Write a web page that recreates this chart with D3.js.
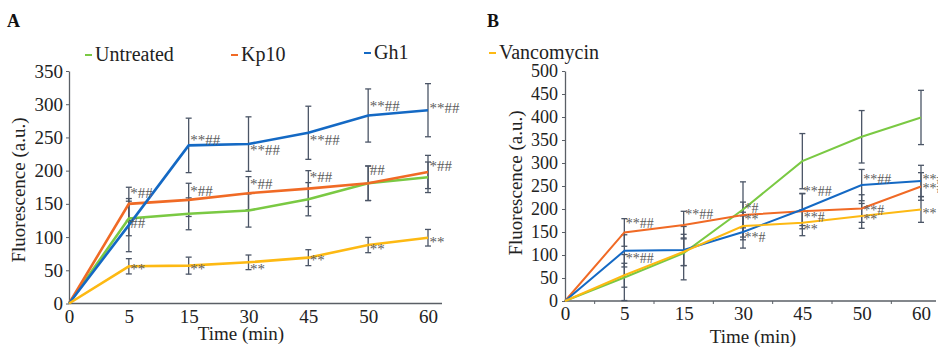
<!DOCTYPE html>
<html>
<head>
<meta charset="utf-8">
<script src="https://cdn.jsdelivr.net/npm/d3@7"></script>
<style>
  body { margin: 0; background: #fff; }
  text { font-family: "Liberation Serif", "Times New Roman", serif; }
</style>
</head>
<body>
<svg id="chart" width="938" height="349"></svg>
<script>
// categories (time points, equally spaced)
var times = ["0", "5", "15", "30", "45", "50", "60"];
var seriesNames = ["Untreated", "Kp10", "Gh1", "Vancomycin"];
var seriesColors = ["#7ac943", "#f06a25", "#1469c4", "#fdb913"];

// panel A
var aUntreated = [0, 128, 135, 140, 157, 181, 190];
var aKp10 = [0, 150, 156, 166, 173, 181, 198];
var aGh1 = [0, 118, 238, 240, 257, 283, 291];
var aVanco = [0, 56, 57, 62, 69, 88, 99];
var aUntreatedErr = [0, 26, 24, 25, 25, 26, 23];
var aKp10Err = [0, 25, 25, 25, 27, 26, 25];
var aGh1Err = [0, 40, 41, 41, 40, 40, 40];
var aVancoErr = [0, 11.5, 12.8, 11, 12, 11.5, 12.5];
var aTicks = [0, 50, 100, 150, 200, 250, 300, 350];
// [time, value where label sits, label]
var aNotes = [
  ["5", 166, "*##"], ["5", 121, "##"], ["5", 52, "**"],
  ["15", 246, "**##"], ["15", 170, "*##"], ["15", 52, "**"],
  ["30", 231, "**##"], ["30", 180, "*##"], ["30", 52, "**"],
  ["45", 247, "**##"], ["45", 191, "*##"], ["45", 66, "**"],
  ["50", 297, "**##"], ["50", 201, "##"], ["50", 82, "**"],
  ["60", 295, "**##"], ["60", 207, "*##"], ["60", 93, "**"]
];

// panel B
var bUntreated = [0, 51, 104, 199, 304, 357, 399];
var bKp10 = [0, 149, 165, 187, 195, 201, 249];
var bGh1 = [0, 109, 111, 150, 199, 252, 261];
var bVanco = [0, 56, 107, 163, 170, 185, 199];
var bUntreatedErr = [0, 50, 58, 60, 60, 57, 59];
var bKp10Err = [0, 30, 30, 28, 38, 30, 30];
var bGh1Err = [0, 35, 34, 35, 35, 34, 34];
var bVancoErr = [0, 26, 30, 30, 28, 27, 28];
var bTicks = [0, 50, 100, 150, 200, 250, 300, 350, 400, 450, 500];
var bNotes = [
  ["5", 170, "**##"], ["5", 93, "**##"],
  ["15", 190, "**##"],
  ["30", 201, "*#"], ["30", 178, "**"], ["30", 138, "**#"],
  ["45", 239, "**##"], ["45", 182, "**#"], ["45", 156, "**"],
  ["50", 265, "**##"], ["50", 198, "**#"], ["50", 177, "**"],
  ["60", 264, "**#"], ["60", 245, "**#"], ["60", 192, "**"]
];

var svg = d3.select("#chart");
var axisColor = "#5a5f66", barColor = "#4b5566", noteColor = "#5c5c5c";

function drawPanel(cfg) {
  var g = svg.append("g");
  var x = d3.scalePoint().domain(times).range([cfg.x0, cfg.x1]);
  var y = d3.scaleLinear().domain([0, cfg.ymax]).range([cfg.y0, cfg.y1]);
  var line = d3.line()
    .x(function (d, i) { return x(times[i]); })
    .y(function (d) { return y(d); });

  // axes
  var yAxis = g.append("g")
    .attr("transform", "translate(" + cfg.x0 + ",0)")
    .call(d3.axisLeft(y).tickValues(cfg.ticks).tickSizeInner(3).tickSizeOuter(0));
  yAxis.select(".domain").attr("stroke", axisColor).attr("stroke-width", 1.3);
  yAxis.selectAll(".tick line").attr("stroke", axisColor);
  yAxis.selectAll(".tick text")
    .attr("x", -cfg.labelGap).attr("fill", "#222")
    .style("font-size", cfg.tickFont + "px")
    .style("font-family", "Liberation Serif, serif");

  var xAxis = g.append("g")
    .attr("transform", "translate(0," + cfg.y0 + ")")
    .call(d3.axisBottom(x).tickSize(0));
  xAxis.select(".domain").remove();
  xAxis.selectAll(".tick text")
    .attr("y", 6).attr("dy", "0.71em").attr("fill", "#222")
    .style("font-size", "19px")
    .style("font-family", "Liberation Serif, serif");
  g.append("line")
    .attr("x1", cfg.x0).attr("x2", cfg.xEnd)
    .attr("y1", cfg.y0).attr("y2", cfg.y0)
    .attr("stroke", axisColor).attr("stroke-width", 1.3);
  if (cfg.midTicks) {
    var step = x.step();
    g.selectAll(".mid").data(times)
      .enter().append("line")
      .attr("x1", function (d) { return x(d) + step / 2; })
      .attr("x2", function (d) { return x(d) + step / 2; })
      .attr("y1", cfg.y0).attr("y2", cfg.y0 + 3)
      .attr("stroke", axisColor);
  }

  // axis titles
  g.append("text")
    .attr("x", cfg.xTitleX).attr("y", cfg.xTitleY)
    .attr("text-anchor", "middle").attr("fill", "#222")
    .style("font-size", "19px").text("Time (min)");
  g.append("text")
    .attr("transform", "translate(" + cfg.yTitleX + "," + cfg.yTitleY + ") rotate(-90)")
    .attr("text-anchor", "middle").attr("fill", "#222")
    .style("font-size", "19px").text("Fluorescence (a.u.)");
  g.append("text")
    .attr("x", cfg.letterX).attr("y", 27)
    .attr("fill", "#111").style("font-size", "18px").style("font-weight", "bold")
    .text(cfg.letter);

  // error bars
  cfg.series.forEach(function (s, k) {
    var eb = g.append("g");
    s.forEach(function (v, i) {
      var e = cfg.errs[k][i];
      if (!e) { return; }
      var cx = x(times[i]);
      eb.append("line")
        .attr("x1", cx).attr("x2", cx)
        .attr("y1", y(v + e)).attr("y2", y(Math.max(0, v - e)))
        .attr("stroke", barColor).attr("stroke-width", 1.3);
      [v + e, v - e].forEach(function (yy) {
        if (yy < 0) { return; }
        eb.append("line")
          .attr("x1", cx - 3).attr("x2", cx + 3)
          .attr("y1", y(yy)).attr("y2", y(yy))
          .attr("stroke", barColor).attr("stroke-width", 1.3);
      });
    });
  });

  // lines
  cfg.series.forEach(function (s, k) {
    g.append("path")
      .datum(s)
      .attr("d", line)
      .attr("fill", "none")
      .attr("stroke", seriesColors[k])
      .attr("stroke-width", cfg.lineWidth);
  });

  // significance marks
  g.selectAll(".note").data(cfg.notes)
    .enter().append("text")
    .attr("x", function (d) { return x(d[0]) + 1.5; })
    .attr("y", function (d) { return y(d[1]); })
    .attr("dy", "0.35em")
    .attr("fill", noteColor)
    .style("font-size", cfg.noteFont + "px")
    .text(function (d) { return d[2]; });
}

drawPanel({
  letter: "A", letterX: 7,
  x0: 69, x1: 428, xEnd: 442, y0: 303.5, y1: 71, ymax: 350,
  ticks: aTicks, labelGap: 6, tickFont: 19, midTicks: false,
  xTitleX: 241, xTitleY: 340, yTitleX: 25, yTitleY: 190,
  series: [aUntreated, aKp10, aGh1, aVanco],
  errs: [aUntreatedErr, aKp10Err, aGh1Err, aVancoErr],
  notes: aNotes, noteFont: 15, lineWidth: 2.6
});

drawPanel({
  letter: "B", letterX: 487,
  x0: 565, x1: 921, xEnd: 936, y0: 301, y1: 71, ymax: 500,
  ticks: bTicks, labelGap: 7, tickFont: 18, midTicks: true,
  xTitleX: 753, xTitleY: 343, yTitleX: 522, yTitleY: 183,
  series: [bUntreated, bKp10, bGh1, bVanco],
  errs: [bUntreatedErr, bKp10Err, bGh1Err, bVancoErr],
  notes: bNotes, noteFont: 14, lineWidth: 2
});

// legend: first three over panel A, Vancomycin over panel B
var legendPos = [[85, 61], [231, 61], [364, 59], [489, 59]];
seriesNames.forEach(function (name, k) {
  var lg = svg.append("g")
    .attr("transform", "translate(" + legendPos[k][0] + "," + legendPos[k][1] + ")");
  lg.append("line")
    .attr("x1", 0).attr("x2", 7).attr("y1", -6).attr("y2", -6)
    .attr("stroke", seriesColors[k]).attr("stroke-width", 2);
  lg.append("text")
    .attr("x", 10).attr("y", 0)
    .attr("fill", "#222").style("font-size", "20px")
    .text(name);
});
</script>
</body>
</html>
